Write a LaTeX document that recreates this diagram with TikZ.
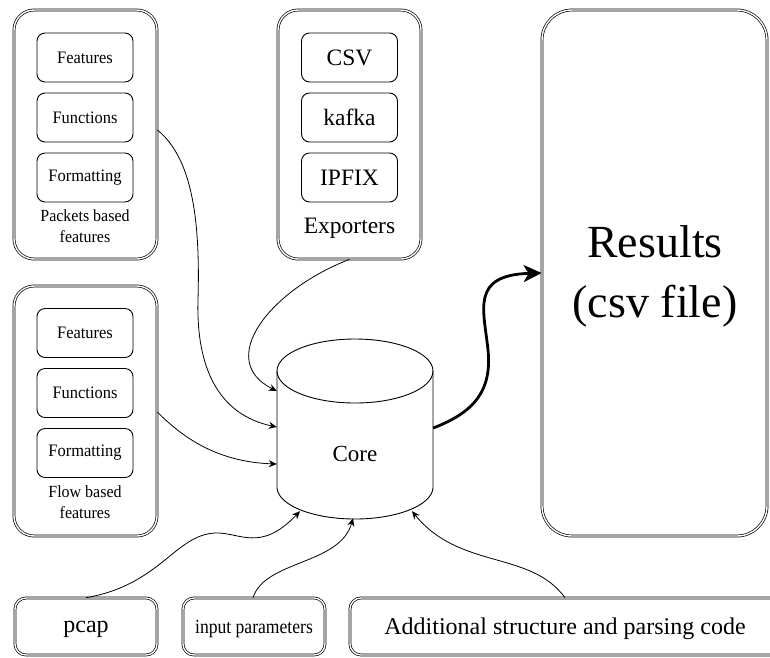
\documentclass[tikz,border=0pt]{standalone}
\usepackage{fontspec}
\setmainfont{Liberation Serif}
\newfontfamily\narrowserif[FakeStretch=0.94]{Liberation Serif}
\newfontfamily\tightserif[FakeStretch=0.88]{Liberation Serif}
\usetikzlibrary{arrows.meta,calc}
\begin{document}
\begin{tikzpicture}[x=1pt,y=-1pt,
  outerbox/.style={draw, double, double distance=1.4pt, line width=0.7pt,
    rounded corners=20pt, inner sep=0pt},
  innerbox/.style={draw, line width=0.9pt, rounded corners=8pt,
    minimum width=96pt, minimum height=49pt, inner sep=0pt,
    font=\narrowserif\fontsize{17.5}{19}\selectfont},
  expbox/.style={innerbox, font=\rmfamily\fontsize{23.5}{26}\selectfont},
  grouplabel/.style={align=center, inner sep=0pt},
  basebox/.style={outerbox, rounded corners=11pt, minimum height=57pt},
  conn/.style={-{Stealth[length=8pt,width=7pt]}, line width=0.8pt},
  bigconn/.style={-{Stealth[length=18pt,width=17pt,inset=5pt]}, line width=2.8pt}]

\useasboundingbox (0,0) rectangle (770,657);
\clip (0,0) rectangle (770,657);

% packet based feature group
\node[outerbox, minimum width=143pt, minimum height=249pt] (pkt) at (85.5,134.5) {};
\node[innerbox] (pktfeat) at (85,57.5) {Features};
\node[innerbox] (pktfun)  at (85,117.5) {Functions};
\node[innerbox] (pktfmt)  at (85,177.5) {Formatting};
\node[grouplabel, font=\narrowserif\fontsize{17}{21}\selectfont] (pktlbl) at (85,226) {Packets based\\features};

% flow based feature group
\node[outerbox, minimum width=143pt, minimum height=250pt] (flow) at (85.5,411) {};
\node[innerbox] (flowfeat) at (85,333) {Features};
\node[innerbox] (flowfun)  at (85,393) {Functions};
\node[innerbox] (flowfmt)  at (85,453) {Formatting};
\node[grouplabel, font=\narrowserif\fontsize{17}{21}\selectfont] (flowlbl) at (85,502) {Flow based\\features};

% exporters
\node[outerbox, minimum width=143pt, minimum height=249pt] (exp) at (349.5,134.5) {};
\node[expbox] (csv)   at (349.5,57.5) {CSV};
\node[expbox] (kafka) at (349.5,117.5) {kafka};
\node[expbox] (ipfix) at (349.5,177.5) {IPFIX};
\node[grouplabel, font=\fontsize{23.5}{26}\selectfont] (explbl) at (349.5,228) {Exporters};

% results
\node[outerbox, rounded corners=30pt, minimum width=225pt, minimum height=526pt] (res) at (654.5,273) {};
\node[grouplabel, font=\fontsize{46}{60}\selectfont] (reslbl) at (655,276) {Results\\(csv file)};

% inputs along the bottom
\node[basebox, minimum width=142pt] (pcap) at (86,626.5) {};
\node[font=\fontsize{24}{28}\selectfont, inner sep=0pt] (pcaplbl) at (86,629) {pcap};
\node[basebox, minimum width=142pt] (inp) at (254,626.5) {};
\node[font=\tightserif\fontsize{20}{22}\selectfont, inner sep=0pt] (inplbl) at (254,629) {input parameters};
\node[basebox, minimum width=440pt] (add) at (570,626.5) {};
\node[font=\fontsize{24}{28}\selectfont, inner sep=0pt] (addlbl) at (565,629) {Additional structure and parsing code};

% core cylinder
\node[minimum width=156pt, minimum height=180pt, inner sep=0pt] (corebody) at (355,429) {};
\draw[line width=0.9pt, fill=white] (355,371) ellipse [x radius=78, y radius=32];
\draw[line width=0.9pt] (277,371) -- (277,487)
  plot[domain=180:0, samples=80] ({355+78*cos(\x)},{487+32*sin(\x)})
  -- (433,371);
\node[font=\fontsize{23}{26}\selectfont, inner sep=0pt] (core) at (355,454) {Core};

% connectors into the core
\draw[conn] ($(pkt.east)+(0,-4.5)$) .. controls (195,160) and (200,230) .. (198,300)
  .. controls (196,370) and (220,415) .. ($(corebody.west)+(0,-2)$);
\draw[conn] (exp.south) .. controls (270,290) and (215,360) .. ($(corebody.west)+(0,-38)$);
\draw[conn] ($(flow.east)+(0,1)$) .. controls (185,440) and (220,462) .. ($(corebody.west)+(0,35)$);
\draw[conn] (pcap.north) .. controls (160,585) and (175,535) .. (215,533)
  .. controls (240,532) and (260,553) .. ($(corebody.south)+(-55,-8)$);
\draw[conn] ($(inp.north)+(-1,0)$) .. controls (265,560) and (340,565) .. ($(corebody.south)+(-2,-1)$);
\draw[conn] ($(add.north)+(-5,0)$) .. controls (530,550) and (460,570) .. ($(corebody.south)+(57,-8)$);

% core to results
\draw[bigconn] ($(corebody.east)+(0,-1)$) .. controls (475,412) and (492,390) .. (488,350)
  .. controls (484,310) and (470,275) .. (res.west);

\end{tikzpicture}
\end{document}
